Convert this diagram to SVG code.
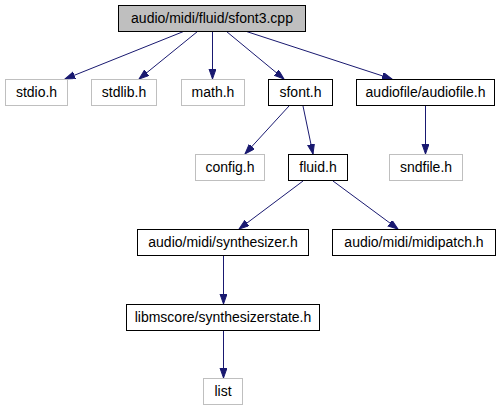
<svg xmlns="http://www.w3.org/2000/svg" width="501" height="411" viewBox="0 0 501 411">
<style>
.n rect{fill:#ffffff;stroke:#000000;stroke-width:1}
.n.g rect{stroke:#bfbfbf}
.n.root rect{fill:#bfbfbf}
.n text{font-family:"Liberation Sans",Arial,sans-serif;font-size:14px;fill:#000000;text-anchor:middle}
.e path{fill:none;stroke:#191970;stroke-width:1;marker-end:url(#ah)}
</style>
<defs>
<marker id="ah" markerUnits="userSpaceOnUse" markerWidth="11" markerHeight="8" refX="10" refY="3.5" orient="auto">
<path d="M0,0 L10,3.5 L0,7 z" fill="#191970" stroke="#191970" stroke-width="1"/>
</marker>
</defs>
<rect width="501" height="411" fill="#ffffff"/>
<g id="edges" class="e">
<path d="M183.5,31.5 L65,79"/>
<path d="M197.5,31.5 L139,79"/>
<path d="M212.5,31.5 L212.5,79"/>
<path d="M226.5,31.5 L284,79"/>
<path d="M246.5,31.5 L392,79"/>
<path d="M289,106 L245,154"/>
<path d="M303,106 L313,154"/>
<path d="M425.5,106 L425.5,154"/>
<path d="M303,181 L239,229"/>
<path d="M333,181 L398,229"/>
<path d="M223.5,256 L223.5,304"/>
<path d="M223.5,330 L223.5,378"/>
</g>
<g id="sfont3_cpp" class="n root"><rect x="118.5" y="5.5" width="187" height="26"/><text x="212" y="22.5">audio/midi/fluid/sfont3.cpp</text></g>
<g id="stdio_h" class="n g"><rect x="5.5" y="79.5" width="62" height="26"/><text x="36.5" y="96.5">stdio.h</text></g>
<g id="stdlib_h" class="n g"><rect x="91.5" y="79.5" width="65" height="26"/><text x="124" y="96.5">stdlib.h</text></g>
<g id="math_h" class="n g"><rect x="181.5" y="79.5" width="63" height="26"/><text x="213" y="96.5">math.h</text></g>
<g id="sfont_h" class="n"><rect x="268.5" y="79.5" width="64" height="26"/><text x="300.5" y="96.5">sfont.h</text></g>
<g id="audiofile_h" class="n"><rect x="356.5" y="79.5" width="138" height="26"/><text x="425.5" y="96.5">audiofile/audiofile.h</text></g>
<g id="config_h" class="n g"><rect x="195.5" y="154.5" width="69" height="26"/><text x="230" y="171.5">config.h</text></g>
<g id="fluid_h" class="n"><rect x="288.5" y="154.5" width="59" height="26"/><text x="318" y="171.5">fluid.h</text></g>
<g id="sndfile_h" class="n g"><rect x="389.5" y="154.5" width="73" height="26"/><text x="426" y="171.5">sndfile.h</text></g>
<g id="synthesizer_h" class="n"><rect x="137.5" y="229.5" width="171" height="26"/><text x="223" y="246.5">audio/midi/synthesizer.h</text></g>
<g id="midipatch_h" class="n"><rect x="332.5" y="229.5" width="163" height="26"/><text x="414" y="246.5">audio/midi/midipatch.h</text></g>
<g id="synthesizerstate_h" class="n"><rect x="126.5" y="304.5" width="193" height="26"/><text x="223" y="321.5">libmscore/synthesizerstate.h</text></g>
<g id="list" class="n g"><rect x="203.5" y="378.5" width="39" height="26"/><text x="223" y="395.5">list</text></g>
</svg>
